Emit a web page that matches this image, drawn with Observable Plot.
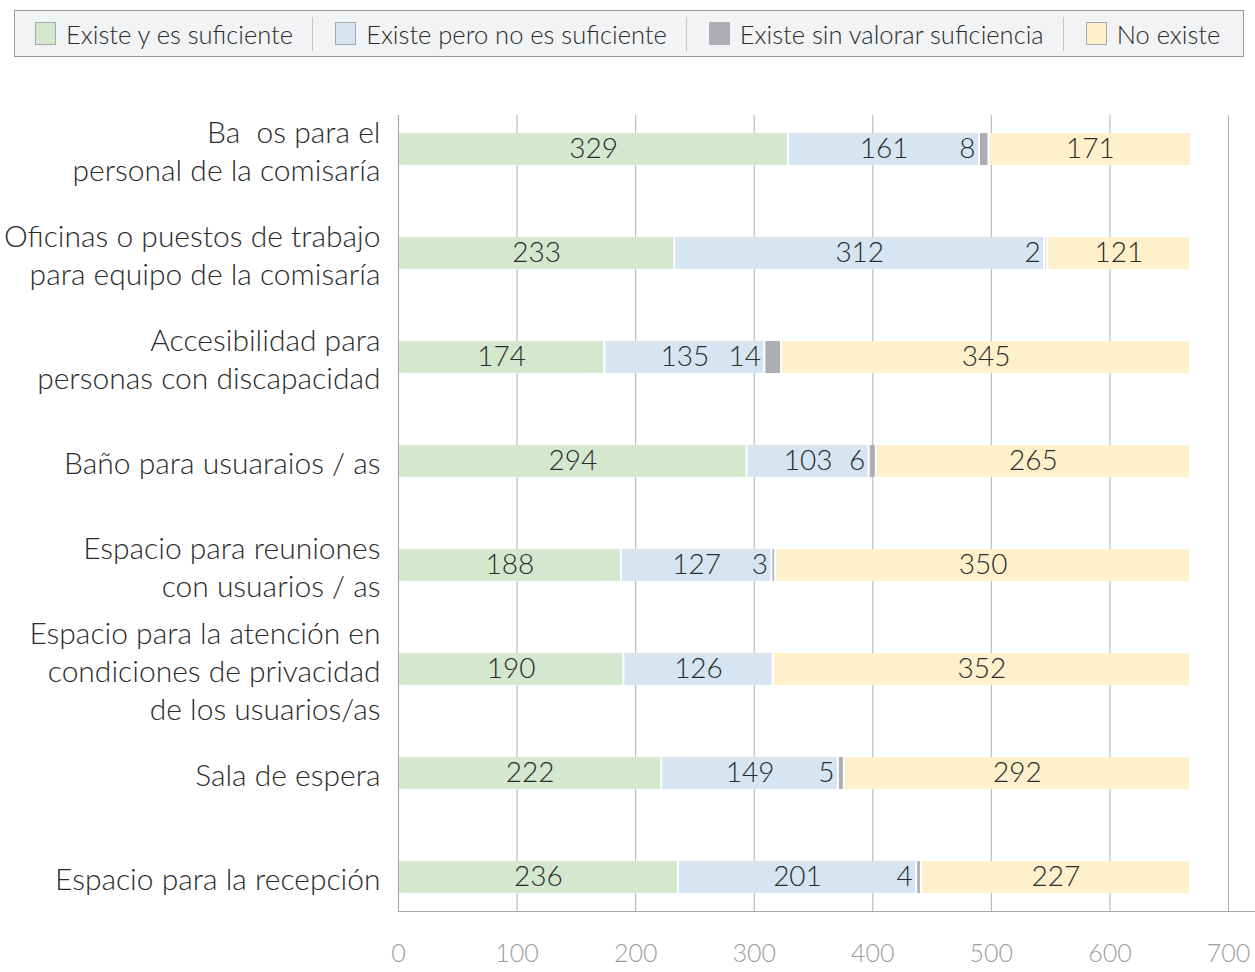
<!DOCTYPE html>
<html>
<head>
<meta charset="utf-8">
<script src="https://cdn.jsdelivr.net/npm/d3@7"></script>
<script src="https://cdn.jsdelivr.net/npm/@observablehq/plot@0.6"></script>
<style>
  body { margin: 0; background: #fff; font-family: Lato, "Open Sans", sans-serif; }
  #legend {
    position: absolute; left: 14px; top: 10px; width: 1230px; height: 47px;
    box-sizing: border-box; border: 1px solid #9a9a9a; background: #f2f3f5;
    display: flex; align-items: center; padding-left: 20px; color: #2b2b2b; font-size: 25.5px; font-weight: 300;
  }
  .item { display: flex; align-items: center; }
  .sw { width: 21px; height: 23px; box-sizing: border-box; border: 1px solid #a8a8a8; margin-right: 10px; }
  .sep { width: 1px; height: 34px; background: #c4c4c4; margin: 0 22px 0 19px; }
  #chart { position: absolute; left: 0; top: 70px; }
</style>
</head>
<body>
<div id="legend"></div>
<div id="chart"></div>
<script>
const categories = [
  "Ba\u00a0\u00a0os para el\npersonal de la comisaría",
  "Oficinas o puestos de trabajo\npara equipo de la comisaría",
  "Accesibilidad para\npersonas con discapacidad",
  "Baño para usuaraios / as",
  "Espacio para reuniones\ncon usuarios / as",
  "Espacio para la atención en\ncondiciones de privacidad\nde los usuarios/as",
  "Sala de espera",
  "Espacio para la recepción"
];
const series = ["Existe y es suficiente", "Existe pero no es suficiente", "Existe sin valorar suficiencia", "No existe"];
const seriesColors = ["#d4e8cd", "#d5e6f2", "#adaeb2", "#fdf0cb"];
const suficiente   = [329, 233, 174, 294, 188, 190, 222, 236];
const noSuficiente = [161, 312, 135, 103, 127, 126, 149, 201];
const sinValorar   = [8, 2, 14, 6, 3, 0, 5, 4];
const noExiste     = [171, 121, 345, 265, 350, 352, 292, 227];
const xTicks = [0, 100, 200, 300, 400, 500, 600, 700];

const valuesBySeries = [suficiente, noSuficiente, sinValorar, noExiste];
const data = [];
categories.forEach((cat, i) => {
  series.forEach((s, j) => data.push({cat, series: s, value: valuesBySeries[j][i]}));
});

// legend
const legend = document.getElementById("legend");
series.forEach((s, j) => {
  if (j > 0) { const sep = document.createElement("div"); sep.className = "sep"; legend.appendChild(sep); }
  const item = document.createElement("div"); item.className = "item";
  const sw = document.createElement("div"); sw.className = "sw"; sw.style.background = seriesColors[j];
  if (j === 2) sw.style.borderColor = seriesColors[j];
  const t = document.createElement("span"); t.textContent = s;
  item.appendChild(sw); item.appendChild(t); legend.appendChild(item);
});

const gray = series[2];
const chart = Plot.plot({
  width: 1255,
  height: 902,
  marginLeft: 398,
  marginRight: 27,
  marginTop: 45,
  marginBottom: 61,
  style: {fontFamily: "Lato, 'Open Sans', sans-serif", fontSize: "28px", fontWeight: 300, color: "#2b2b2b", background: "white"},
  x: {domain: [0, 700], axis: null},
  y: {domain: categories, paddingInner: 0.693, paddingOuter: 0.153, axis: null},
  color: {domain: series, range: seriesColors},
  marks: [
    Plot.ruleX(xTicks.filter(d => d > 0), {stroke: "#b0b0b0", strokeWidth: 1}),
    Plot.ruleX([0], {stroke: "#a8a8a8", strokeWidth: 1.2}),
    Plot.frame({anchor: "bottom", stroke: "#a8a8a8", strokeWidth: 1.2, insetRight: -27}),
    Plot.barX(data, Plot.stackX({x: "value", y: "cat", fill: "series", insetLeft: 1, insetRight: 1})),
    Plot.text(data, Plot.stackX({
      x: "value", y: "cat",
      text: d => (d.series === gray || d.value === 0) ? null : String(d.value),
      fill: "#2b2b2b", fontSize: 28
    })),
    Plot.text(data, Plot.stackX1({
      x: "value", y: "cat",
      text: d => (d.series === gray && d.value > 0) ? String(d.value) : null,
      fill: "#2b2b2b", fontSize: 28, textAnchor: "end", dx: -4
    })),
    Plot.axisY({tickSize: 0, tickPadding: 18, fontSize: 30, lineHeight: 1.27, fill: "#2b2b2b", label: null}),
    Plot.axisX({ticks: xTicks, tickSize: 0, tickPadding: 33, fontSize: 25, fill: "#9c9c9c", label: null, tickFormat: d => String(d)})
  ]
});
document.getElementById("chart").appendChild(chart);
</script>
</body>
</html>
